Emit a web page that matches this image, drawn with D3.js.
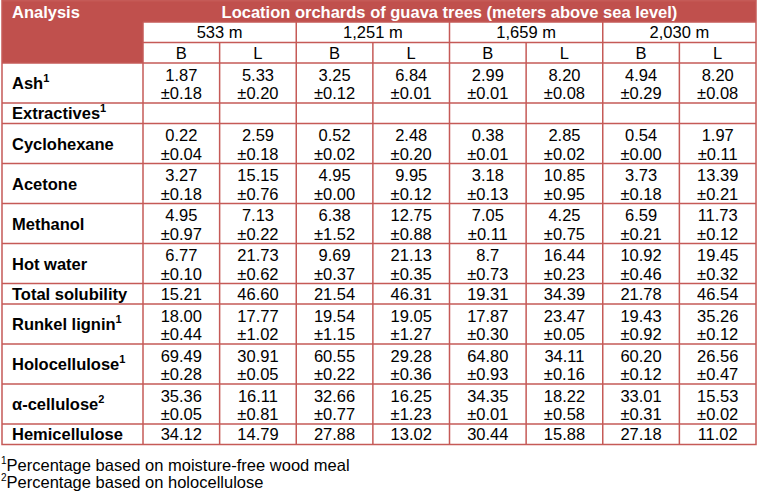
<!DOCTYPE html>
<html><head><meta charset="utf-8">
<script src="https://cdn.jsdelivr.net/npm/d3@7"></script>
<style>body{margin:0;background:#fff}svg{display:block;font-family:"Liberation Sans",Arial,sans-serif}</style>
</head><body><svg id="c" width="758" height="495"></svg>
<script>
const title = "Location orchards of guava trees (meters above sea level)";
const firstHeader = "Analysis";
const altitudes = ["533 m", "1,251 m", "1,659 m", "2,030 m"];
const parts = ["B", "L"];
const rowLabels = ["Ash", "Extractives", "Cyclohexane", "Acetone", "Methanol", "Hot water", "Total solubility", "Runkel lignin", "Holocellulose", "α-cellulose", "Hemicellulose"];
const rowSup = ["1", "1", "", "", "", "", "", "1", "1", "2", ""];
const means = [
  ["1.87","5.33","3.25","6.84","2.99","8.20","4.94","8.20"],
  null,
  ["0.22","2.59","0.52","2.48","0.38","2.85","0.54","1.97"],
  ["3.27","15.15","4.95","9.95","3.18","10.85","3.73","13.39"],
  ["4.95","7.13","6.38","12.75","7.05","4.25","6.59","11.73"],
  ["6.77","21.73","9.69","21.13","8.7","16.44","10.92","19.45"],
  ["15.21","46.60","21.54","46.31","19.31","34.39","21.78","46.54"],
  ["18.00","17.77","19.54","19.05","17.87","23.47","19.43","35.26"],
  ["69.49","30.91","60.55","29.28","64.80","34.11","60.20","26.56"],
  ["35.36","16.11","32.66","16.25","34.35","18.22","33.01","15.53"],
  ["34.12","14.79","27.88","13.02","30.44","15.88","27.18","11.02"]
];
const sds = [
  ["0.18","0.20","0.12","0.01","0.01","0.08","0.29","0.08"],
  null,
  ["0.04","0.18","0.02","0.20","0.01","0.02","0.00","0.11"],
  ["0.18","0.76","0.00","0.12","0.13","0.95","0.18","0.21"],
  ["0.97","0.22","1.52","0.88","0.11","0.75","0.21","0.12"],
  ["0.10","0.62","0.37","0.35","0.73","0.23","0.46","0.32"],
  null,
  ["0.44","1.02","1.15","1.27","0.30","0.05","0.92","0.12"],
  ["0.28","0.05","0.22","0.36","0.93","0.16","0.12","0.47"],
  ["0.05","0.81","0.77","1.23","0.01","0.58","0.31","0.02"],
  null
];
const footnotes = [["1","Percentage based on moisture-free wood meal"],["2","Percentage based on holocellulose"]];

const RED = "#c0504d", LINE = "#c55a57", FS = 16.5;
const svg = d3.select("#c");
const left = 2, right = 756, labelW = 141;
const colKeys = d3.range(8);
const x = d3.scaleBand().domain(colKeys).range([left + labelW, right]);
const xg = d3.scaleBand().domain(altitudes).range([left + labelW, right]);

// row geometry
const headerTop = 0, h1 = 22, h2 = 20.5, h3 = 20.5;
const bodyTop = headerTop + h1 + h2 + h3;
const rowH = rowLabels.map((r, i) => (means[i] && sds[i]) ? 40 : 20.5);
const rowY = [];
let acc = bodyTop;
rowH.forEach(h => { rowY.push(acc); acc += h; });
const bodyBottom = acc;

// header backgrounds
svg.append("rect").attr("x", left).attr("y", headerTop).attr("width", right - left).attr("height", h1).attr("fill", RED);
svg.append("rect").attr("x", left).attr("y", headerTop).attr("width", labelW).attr("height", bodyTop - headerTop).attr("fill", RED);

// grid lines
const g = svg.append("g").attr("stroke", LINE).attr("stroke-width", 1.5).attr("fill", "none");
g.append("line").attr("x1", left + labelW).attr("x2", right).attr("y1", headerTop + h1).attr("y2", headerTop + h1);
g.append("line").attr("x1", left + labelW).attr("x2", right).attr("y1", headerTop + h1 + h2).attr("y2", headerTop + h1 + h2);
altitudes.forEach(a => {
  g.append("line").attr("x1", xg(a)).attr("x2", xg(a)).attr("y1", headerTop + h1).attr("y2", bodyBottom);
});
colKeys.filter(k => k % 2 === 1).forEach(k => {
  g.append("line").attr("x1", x(k)).attr("x2", x(k)).attr("y1", headerTop + h1 + h2).attr("y2", bodyBottom);
});
rowY.forEach(y => g.append("line").attr("x1", left).attr("x2", right).attr("y1", y).attr("y2", y));
g.append("rect").attr("x", left).attr("y", headerTop + 0.75).attr("width", right - left).attr("height", bodyBottom - headerTop - 0.75);

// header text
svg.append("text").attr("x", 12).attr("y", headerTop + 18).attr("fill", "#fff").attr("font-weight", "bold").attr("font-size", FS).text(firstHeader);
svg.append("text").attr("x", (left + labelW + right) / 2).attr("y", headerTop + 18).attr("fill", "#fff").attr("font-weight", "bold").attr("font-size", FS).attr("text-anchor", "middle").text(title);
altitudes.forEach(a => {
  svg.append("text").attr("x", xg(a) + xg.bandwidth() / 2).attr("y", headerTop + h1 + 16).attr("text-anchor", "middle").attr("font-size", FS).text(a);
});
colKeys.forEach(k => {
  svg.append("text").attr("x", x(k) + x.bandwidth() / 2).attr("y", headerTop + h1 + h2 + 16).attr("text-anchor", "middle").attr("font-size", FS).text(parts[k % 2]);
});

// body
rowLabels.forEach((lab, i) => {
  const y0 = rowY[i], h = rowH[i];
  const t = svg.append("text").attr("x", 12).attr("y", y0 + h / 2 + 6).attr("font-weight", "bold").attr("font-size", FS);
  t.append("tspan").text(lab);
  if (rowSup[i]) t.append("tspan").attr("font-size", 11).attr("dy", -7).text(rowSup[i]);
  if (!means[i]) return;
  colKeys.forEach(k => {
    const cx = x(k) + x.bandwidth() / 2;
    if (sds[i]) {
      svg.append("text").attr("x", cx).attr("y", y0 + 17.5).attr("text-anchor", "middle").attr("font-size", FS).text(means[i][k]);
      svg.append("text").attr("x", cx).attr("y", y0 + 36).attr("text-anchor", "middle").attr("font-size", FS).text("±" + sds[i][k]);
    } else {
      svg.append("text").attr("x", cx).attr("y", y0 + h / 2 + 6).attr("text-anchor", "middle").attr("font-size", FS).text(means[i][k]);
    }
  });
});

// footnotes
footnotes.forEach((f, i) => {
  const t = svg.append("text").attr("x", 1).attr("y", 471 + i * 17).attr("font-size", FS);
  t.append("tspan").attr("font-size", 10).attr("dy", -7).text(f[0]);
  t.append("tspan").attr("dy", 7).text(f[1]);
});
</script></body></html>
